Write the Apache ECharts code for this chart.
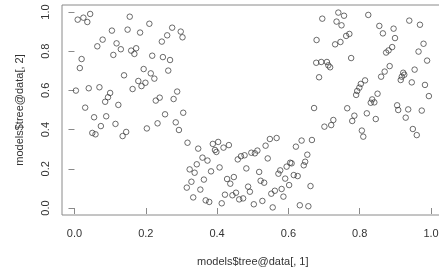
<!DOCTYPE html>
<html><head><meta charset="utf-8">
<script src="https://cdn.jsdelivr.net/npm/echarts@6/dist/echarts.min.js"></script>
<style>html,body{margin:0;padding:0;background:#fff;overflow:hidden}#c{width:439px;height:272px}</style>
</head><body><div id="c"></div>
<script>
const xTicks = [0, 0.2, 0.4, 0.6, 0.8, 1.0];
const yTicks = [0, 0.2, 0.4, 0.6, 0.8, 1.0];
const xTitle = 'models$tree@data[, 1]';
const yTitle = 'models$tree@data[, 2]';

const leftCluster = [
[0.009,0.961],[0.025,0.971],[0.036,0.949],[0.044,0.990],
[0.155,0.976],[0.210,0.940],[0.105,0.905],[0.149,0.910],[0.184,0.895],[0.274,0.920],[0.298,0.900],[0.303,0.871],[0.260,0.881],[0.245,0.849],
[0.079,0.859],[0.064,0.825],[0.118,0.840],[0.130,0.810],[0.109,0.781],[0.159,0.803],[0.173,0.815],[0.168,0.786],[0.218,0.777],[0.248,0.770],[0.268,0.755],
[0.020,0.760],[0.015,0.714],[0.194,0.709],[0.214,0.687],[0.224,0.660],[0.263,0.701],[0.139,0.677],[0.179,0.648],[0.188,0.622],[0.199,0.639],[0.163,0.607],
[0.004,0.599],[0.040,0.611],[0.070,0.616],[0.100,0.587],[0.094,0.565],[0.086,0.542],[0.123,0.526],[0.030,0.512],[0.228,0.548],[0.239,0.563],[0.278,0.556],[0.288,0.594],[0.254,0.478],[0.305,0.486],
[0.055,0.463],[0.089,0.468],[0.074,0.418],[0.115,0.429],[0.050,0.383],[0.059,0.376],[0.145,0.388],[0.135,0.367],[0.203,0.406],[0.233,0.432],[0.284,0.437],[0.293,0.398]
];
const bottomCluster = [
[0.317,0.333],[0.347,0.303],[0.388,0.327],[0.403,0.337],[0.394,0.296],[0.398,0.286],[0.418,0.308],[0.433,0.321],[0.359,0.257],[0.373,0.242],[0.343,0.223],[0.323,0.197],[0.337,0.180],[0.383,0.187],[0.407,0.207],[0.328,0.134],[0.363,0.145],[0.315,0.104],[0.353,0.094],[0.333,0.054],[0.368,0.039],[0.378,0.031],[0.413,0.024],[0.422,0.068],[0.428,0.148],[0.437,0.124],[0.447,0.158],[0.443,0.065],[0.453,0.078],[0.462,0.044],[0.473,0.049],[0.458,0.248],[0.467,0.264],[0.477,0.269],[0.482,0.202],[0.496,0.282],[0.506,0.279],[0.513,0.293],[0.536,0.318],[0.548,0.352],[0.567,0.357],[0.542,0.253],[0.518,0.184],[0.522,0.139],[0.532,0.129],[0.487,0.109],[0.492,0.083],[0.503,0.019],[0.527,0.036],[0.552,0.073],[0.562,0.088],[0.556,0.003],[0.586,0.058],[0.581,0.097],[0.602,0.117],[0.591,0.150],[0.572,0.175],[0.577,0.192],[0.595,0.211],[0.605,0.231],[0.609,0.228],[0.615,0.168],[0.626,0.163],[0.643,0.218],[0.647,0.236],[0.653,0.272],[0.621,0.313],[0.637,0.344],[0.666,0.347],[0.662,0.112],[0.632,0.014],[0.656,0.009]
];
const rightCluster = [
[0.740,0.997],[0.756,0.981],[0.695,0.966],[0.735,0.951],[0.749,0.932],[0.824,0.985],[0.939,0.956],[0.969,0.935],[0.855,0.929],[0.895,0.915],[0.865,0.891],[0.899,0.867],[0.771,0.888],[0.762,0.878],[0.746,0.847],[0.731,0.835],[0.679,0.857],[0.891,0.821],[0.881,0.804],[0.874,0.793],[0.979,0.838],[0.965,0.798],[0.989,0.752],[0.776,0.765],[0.678,0.741],[0.692,0.745],[0.708,0.745],[0.712,0.728],[0.717,0.718],[0.686,0.667],[0.884,0.724],[0.870,0.696],[0.860,0.670],[0.922,0.690],[0.925,0.680],[0.918,0.670],[0.915,0.653],[0.954,0.706],[0.946,0.641],[0.983,0.628],[0.994,0.571],[0.815,0.651],[0.803,0.633],[0.799,0.614],[0.793,0.597],[0.790,0.577],[0.850,0.583],[0.835,0.554],[0.831,0.537],[0.841,0.539],[0.905,0.524],[0.908,0.500],[0.936,0.503],[0.974,0.497],[0.765,0.509],[0.672,0.510],
[0.701,0.415],[0.720,0.423],[0.726,0.449],[0.785,0.471],[0.779,0.444],[0.820,0.483],[0.845,0.454],[0.806,0.395],[0.810,0.364],[0.929,0.461],[0.949,0.403],[0.960,0.372]
];

const allPoints = leftCluster.concat(bottomCluster, rightCluster);
const font = 'Liberation Sans, Arial, Helvetica, sans-serif';
const chart = echarts.init(document.getElementById('c'), null, {renderer: 'canvas'});
chart.setOption({
  animation: false,
  grid: {left: 62, width: 381.5, top: 5, height: 210, show: true, borderColor: '#8a8a8a', borderWidth: 1, backgroundColor: 'transparent', containLabel: false, outerBoundsMode: 'none'},
  xAxis: {
    type: 'value', min: -0.035, max: 1.035,
    name: xTitle, nameLocation: 'middle', nameGap: 41,
    nameTextStyle: {fontFamily: font, fontSize: 11, color: '#333'},
    axisLine: {show: false},
    splitLine: {show: false},
    axisTick: {show: true, inside: false, length: 6, customValues: xTicks, lineStyle: {color: '#8a8a8a'}},
    axisLabel: {show: true, margin: 13, customValues: xTicks, fontFamily: font, fontSize: 11, color: '#333', formatter: v => v.toFixed(1)}
  },
  yAxis: {
    type: 'value', min: -0.0357, max: 1.0357,
    name: yTitle, nameLocation: 'middle', nameGap: 37, nameRotate: 90,
    nameTextStyle: {fontFamily: font, fontSize: 11, color: '#333'},
    axisLine: {show: false},
    splitLine: {show: false},
    axisTick: {show: true, inside: false, length: 6, customValues: yTicks, lineStyle: {color: '#8a8a8a'}},
    axisLabel: {show: true, margin: 11, rotate: 90, customValues: yTicks, fontFamily: font, fontSize: 11, color: '#333', formatter: v => v.toFixed(1)}
  },
  series: [{
    type: 'scatter', data: allPoints, symbol: 'circle', symbolSize: 5.5,
    itemStyle: {color: 'rgba(0,0,0,0)', borderColor: '#333', borderWidth: 0.9}
  }]
});
</script></body></html>
